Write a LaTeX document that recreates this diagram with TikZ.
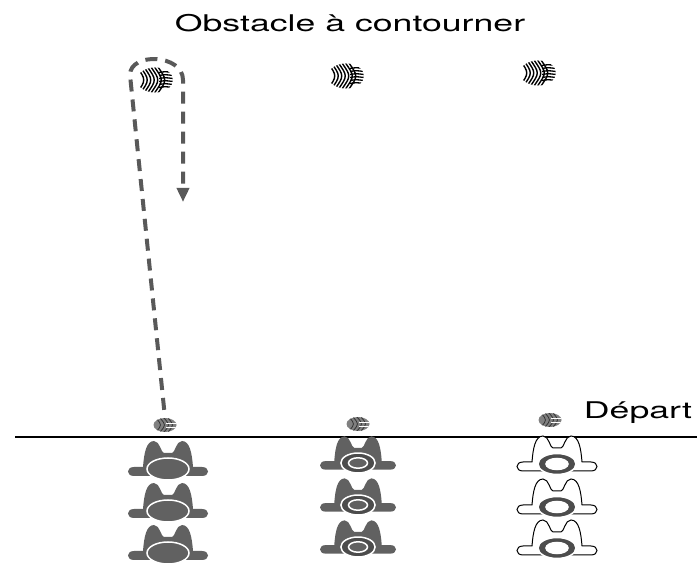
\documentclass[tikz,border=0pt]{standalone}
\usepackage{graphicx}
\usepackage{fontspec}
\setmainfont{TeX Gyre Heros}
\usepackage{tikz}
\usetikzlibrary{shapes.geometric,arrows.meta}

\colorlet{gris}{black!62}
\colorlet{grisfonce}{black!70}

% silhouette d'un joueur, vu de dessus (tete en (0,0))
\newcommand{\corps}{(-16,7) -- (-34,7) .. controls (-42,7) and (-42,-2) .. (-34,-2)
  -- (-25,-2) .. controls (-24,-15) and (-22,-28) .. (-14,-28)
  .. controls (-8,-28) and (-7,-16) .. (-4,-16) -- (4,-16)
  .. controls (7,-16) and (8,-28) .. (14,-28)
  .. controls (22,-28) and (24,-15) .. (25,-2)
  -- (34,-2) .. controls (42,-2) and (42,7) .. (34,7) -- (16,7) -- cycle}
\newcommand{\etire}[1]{\scalebox{1.55}[1]{#1}}

\tikzset{
  pics/plein/.style={code={
      \fill[gris] \corps;
      \draw[white,line width=1.5pt,fill=gris] (0,0) ellipse [x radius=21,y radius=11];
  }},
  pics/anneau/.style={code={
      \fill[gris] \corps;
      \draw[white,line width=1.5pt,fill=grisfonce,even odd rule]
        (0,0) ellipse [x radius=18,y radius=10.5] (0,0) ellipse [x radius=10,y radius=5.5];
  }},
  pics/contour/.style={code={
      \filldraw[fill=white,draw=black,line width=1pt] \corps;
      \draw[white,line width=1.5pt,fill=grisfonce,even odd rule]
        (0,0) ellipse [x radius=19,y radius=10.5] (0,0) ellipse [x radius=11,y radius=5.5];
  }}
}

\begin{document}
\begin{tikzpicture}[x=1pt,y=-1pt,
    texte/.style={anchor=base,inner sep=0pt,font=\fontsize{23}{27}\selectfont},
    pelote/.style={ellipse,minimum width=36pt,minimum height=25pt,inner sep=0pt,fill=white,
      path picture={
        \begin{scope}[shift={(path picture bounding box.center)}]
          \foreach \i in {-18,-14.5,...,3}
            \draw[line width=1.4pt] (\i,-13) .. controls (\i+9,0) .. (\i,13);
          \foreach \j in {-7.5,-4.5,...,7.5}
            \draw[line width=1.3pt] (4,\j) .. controls (10,\j-1) .. (18,\j);
        \end{scope}}},
    balle/.style={ellipse,minimum width=23pt,minimum height=14pt,inner sep=0pt,fill=black!50,
      path picture={
        \begin{scope}[shift={(path picture bounding box.center)}]
          \foreach \i in {-9,-5,...,3}
            \draw[black!80,line width=.8pt] (\i,-7) .. controls (\i+6,0) .. (\i,7);
          \draw[white,line width=.6pt] (1,-2) -- (12,-2) (1,2) -- (12,2);
        \end{scope}}},
    piste/.style={draw=black!65,line width=4pt,dash pattern=on 12pt off 8pt,
      -{Triangle[length=14pt,width=12pt]}}]
  \useasboundingbox (0,0) rectangle (697,569);

  \node[texte] (titre) at (350,32) {\etire{Obstacle à contourner}};
  \node[texte] (depart) at (638,419) {\etire{Départ}};

  \node[pelote] (obs1) at (155,80) {};
  \node[pelote] (obs2) at (346,76) {};
  \node[pelote] (obs3) at (538,73) {};

  \node[balle] (balle1) at (165,425) {};
  \node[balle] (balle2) at (358,424) {};
  \node[balle] (balle3) at (550,420) {};

  \draw[line width=1.8pt] (15,437) -- (697,437);

  \coordinate (virage1) at (130,75);
  \coordinate (virage2) at (183,80);
  \coordinate (fin) at (183,202);
  \draw[piste,shorten <=8pt] (balle1.north) -- (virage1)
    .. controls (130,52) and (183,54) .. (virage2) -- (fin);

  % les trois colonnes de joueurs
  \foreach \y in {469,511,553} \pic at (168,\y) {plein};
  \foreach \y in {463,505,547} \pic[scale=.95] at (358,\y) {anneau};
  \foreach \y in {464,507,548} \pic at (557,\y) {contour};
\end{tikzpicture}
\end{document}
